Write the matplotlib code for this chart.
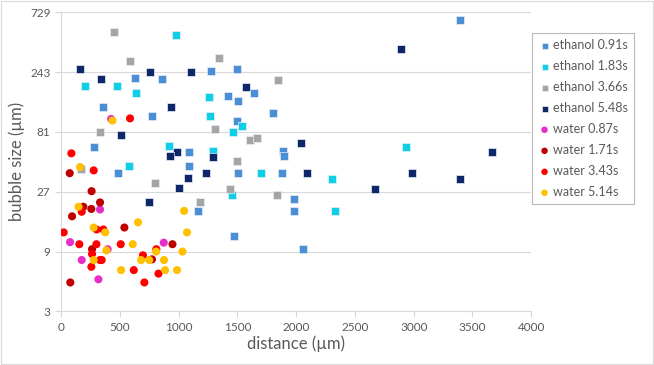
import matplotlib.pyplot as plt
from matplotlib.patches import Rectangle

# --- data (distance in um, bubble size in um) ---
eth091_x = [1274, 1495, 632, 860, 1645, 1424, 1503, 354, 771, 1807, 1498, 284, 1087,
            1892, 1898, 1087, 482, 1509, 1883, 3398, 1983, 1166, 1983, 1475, 2057]
eth091_y = [248, 256, 218, 213, 165, 157, 142, 128, 109, 114, 100, 62, 56,
            57, 52, 43, 38, 38, 38, 629, 23.8, 19, 19, 11.9, 9.5]

eth183_x = [976, 201, 479, 641, 1262, 1268, 1543, 1461, 919, 1294, 576, 1702, 2933,
            2309, 2334, 1458]
eth183_y = [483, 189, 189, 165, 155, 109, 90, 81, 63, 57, 43, 38, 62,
            34, 19, 25.3]

eth366_x = [451, 590, 1347, 1850, 1311, 329, 1611, 1666, 1501, 170, 800, 1438, 1841, 1183]
eth366_y = [507, 298, 317, 209, 85, 81, 70, 72.5, 47.5, 41, 31.7, 28.4, 25.3, 22.2]

eth548_x = [162, 338, 760, 1106, 1571, 934, 508, 2045, 987, 925, 1294, 1237, 2090,
            1081, 2890, 3662, 2984, 3390, 2672, 1001, 746]
eth548_y = [256, 213, 243, 243, 185, 128, 76, 66, 56, 52, 51, 38, 38,
            35, 373, 56, 38, 34, 28.4, 28.7, 22.2]

wat087_x = [426, 332, 77, 397, 874, 176, 318]
wat087_y = [103, 19.5, 10.7, 9.4, 10.6, 7.7, 5.4]

wat171_x = [74, 260, 190, 258, 332, 94, 539, 948, 264, 774, 79]
wat171_y = [38, 27.3, 20.5, 19.7, 22.2, 17.2, 14, 10.3, 9.4, 7.8, 5.1]

wat343_x = [587, 88, 278, 176, 23, 156, 303, 360, 301, 508, 264, 332, 346, 258,
            619, 697, 811, 829, 709]
wat343_y = [104, 54.7, 40, 18.7, 12.8, 10.3, 13.5, 13.5, 10.3, 10.3, 8.6, 7.7, 7.7, 6.8,
            6.4, 8.4, 9.4, 6.0, 5.1]

wat514_x = [437, 162, 149, 278, 376, 655, 1047, 1072, 386, 610, 278, 511, 681, 750,
            809, 1033, 876, 885, 987]
wat514_y = [100, 42.5, 20.5, 14, 12.8, 15.4, 19, 12.8, 9.2, 10.3, 7.7, 6.4, 7.7, 7.7,
            9, 9, 7.7, 6.4, 6.4]

yticks = [3, 9, 27, 81, 243, 729]

plt.rcParams['font.family'] = ['Lato', 'DejaVu Sans']

fig = plt.figure(figsize=(6.54, 3.65), dpi=100)
ax = fig.add_axes([0.0933, 0.147, 0.719, 0.819])

series = [
    (eth091_x, eth091_y, 'ethanol 0.91s', '#4a8fd6', 's'),
    (eth183_x, eth183_y, 'ethanol 1.83s', '#0fcfe6', 's'),
    (eth366_x, eth366_y, 'ethanol 3.66s', '#a5a5a5', 's'),
    (eth548_x, eth548_y, 'ethanol 5.48s', '#0e2768', 's'),
    (wat087_x, wat087_y, 'water 0.87s', '#e62ec8', 'o'),
    (wat171_x, wat171_y, 'water 1.71s', '#c00000', 'o'),
    (wat343_x, wat343_y, 'water 3.43s', '#ff0000', 'o'),
    (wat514_x, wat514_y, 'water 5.14s', '#ffc000', 'o'),
]

for x, y, lab, col, m in series:
    if m == 's':
        ax.scatter(x, y, s=30, marker='s', color=col, edgecolors='#e8eef8',
                   linewidths=0.5, label=lab, zorder=3)
    else:
        ax.scatter(x, y, s=34, marker='o', color=col, edgecolors='none',
                   label=lab, zorder=3)

ax.set_yscale('log', base=3)
ax.set_ylim(3, 729)
ax.set_xlim(0, 4000)
ax.set_yticks(yticks)
ax.set_yticklabels([str(t) for t in yticks])
ax.minorticks_off()
ax.set_xticks(range(0, 4001, 500))

ax.grid(axis='y', color='#d9d9d9', linewidth=0.8)
ax.set_axisbelow(True)
for s in ['top', 'right']:
    ax.spines[s].set_visible(False)
for s in ['left', 'bottom']:
    ax.spines[s].set_color('#d9d9d9')
    ax.spines[s].set_linewidth(0.8)
ax.tick_params(axis='both', colors='#d9d9d9', labelcolor='#595959',
               labelsize=8.5, length=4, width=0.8)

ax.set_xlabel('distance (µm)', fontsize=12, color='#595959', labelpad=2)
ax.set_ylabel('bubble size (µm)', fontsize=12, color='#595959', labelpad=4)

leg = fig.legend(loc='upper left', bbox_to_anchor=(0.8135, 0.91),
                 borderaxespad=0, fontsize=9, frameon=True, fancybox=False,
                 handletextpad=0.2, handlelength=1.0, borderpad=0.5,
                 labelspacing=0.72, markerscale=0.8, labelcolor='#595959')
leg.get_frame().set_edgecolor('#a6a6a6')
leg.get_frame().set_linewidth(0.8)

# light border round the whole chart area
fig.patches.append(Rectangle((0.002, 0.004), 0.996, 0.992, transform=fig.transFigure,
                             fill=False, edgecolor='#d9d9d9', linewidth=0.8))

fig.savefig('out.png', dpi=100)
